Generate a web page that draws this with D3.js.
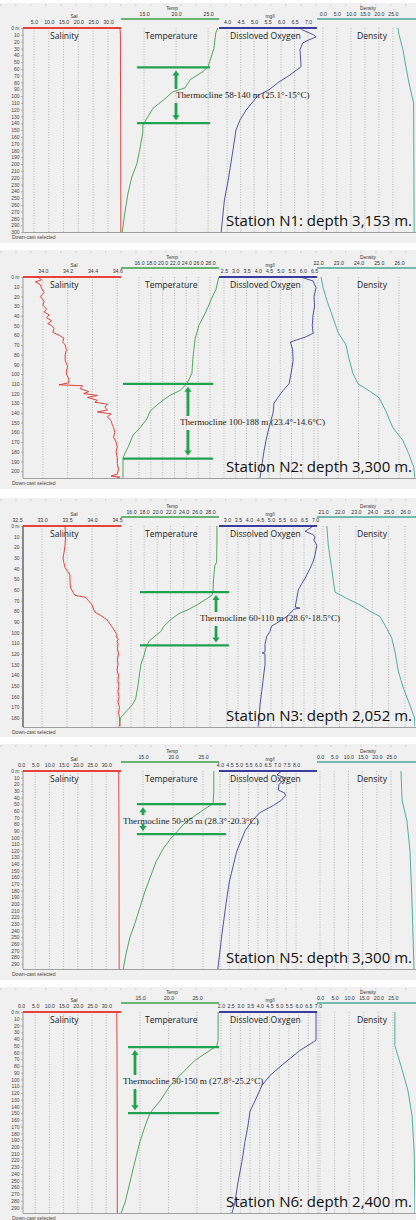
<!DOCTYPE html>
<html><head><meta charset="utf-8">
<script src="https://cdn.jsdelivr.net/npm/d3@7"></script>
<style>
body{margin:0;background:#fff;}
svg{display:block;}
</style></head><body>
<svg id="c" width="416" height="1220"></svg>
<script>
// ---------------- DATA ----------------
const stationLabels = ["Station N1: depth 3,153 m.","Station N2: depth 3,300 m.","Station N3: depth 2,052 m.","Station N5: depth 3,300 m.","Station N6: depth 2,400 m."];
const thermoLabels = ["Thermocline 58-140 m (25.1°-15°C)","Thermocline 100-188 m (23.4°-14.6°C)","Thermocline 60-110 m (28.6°-18.5°C)","Thermocline 50-95 m (28.3°-20.3°C)","Thermocline 50-150 m (27.8°-25.2°C)"];
const thermoDepths = [[58,140],[110,187],[62,112],[50,95],[52,150]];
const maxDepths = [300,207,188.5,298,298];
const columnTitles = ["Salinity","Temperature","Dissloved Oxygen","Density"];
const columnTitlesN3 = ["Salinity","Temperature","Dissolved Oxygen","Density"];
const axisTitles = ["Sal","Temp","mg/l","Density"];

const salTicks = [[5,10,15,20,25,30],[34.0,34.2,34.4,34.6],[32.5,33.0,33.5,34.0,34.5],[0,5,10,15,20,25,30],[0,5,10,15,20,25,30]];
const tempTicks = [[15,20,25],[16,18,20,22,24,26,28],[16,18,20,22,24,26,28],[15,20,25],[15,20,25]];
const doTicks = [[4,4.5,5,5.5,6,6.5,7],[2.5,3,3.5,4,4.5,5,5.5,6,6.5],[3,3.5,4,4.5,5,5.5,6,6.5,7],[4,4.5,5,5.5,6,6.5,7,7.5,8],[2,2.5,3,3.5,4,4.5,5,5.5,6,6.5,7]];
const densTicks = [[0,5,10,15,20,25],[22,23,24,25,26],[21,22,23,24,25,26],[0,5,10,15,20,25],[0,5,10,15,20,25]];

// profiles: [depth (m), value]
const n1Sal = [[0,33.9],[2,34.1],[10,34.2],[60,34.22],[140,34.3],[300,34.35]];
const n1Temp = [[0,26.5],[7,26.2],[30,25.9],[57,25.0],[64,24.2],[76,22.2],[88,21.4],[94,19.5],[106,18.0],[118,16.4],[132,15.5],[143,14.8],[154,14.8],[175,14.4],[199,13.9],[219,13.1],[243,12.5],[272,12.0],[300,11.6]];
const n1DO = [[0,6.7],[3,6.8],[10,7.2],[13,7.3],[18,7.0],[22,6.8],[32,6.7],[57,6.74],[69,6.33],[80,5.9],[91,5.55],[99,5.15],[121,4.7],[135,4.48],[150,4.33],[179,4.22],[224,4.04],[253,3.9],[300,3.78]];
const n1Dens = [[0,26.8],[10,27.2],[32,28.6],[60,29.8],[80,30.7],[110,32.4],[200,32.5],[300,32.6]];

const n2Sal = [[0,33.96],[3,33.99],[5,33.94],[8,33.98],[12,33.99],[16,34.01],[20,33.98],[25,34.01],[29,34.0],[33,34.03],[36,34.01],[39,34.05],[42,34.03],[45,34.07],[48,34.04],[50,34.07],[53,34.09],[57,34.08],[60,34.13],[63,34.17],[67,34.16],[70,34.18],[75,34.19],[80,34.18],[86,34.18],[92,34.2],[97,34.19],[100,34.19],[105,34.21],[109,34.21],[111,34.13],[112,34.32],[115,34.3],[118,34.37],[120,34.33],[122,34.44],[124,34.36],[127,34.44],[129,34.42],[131,34.52],[134,34.5],[137,34.52],[139,34.44],[141,34.55],[144,34.52],[148,34.55],[152,34.56],[155,34.57],[160,34.58],[165,34.57],[170,34.59],[175,34.6],[180,34.59],[186,34.6],[192,34.6],[198,34.61],[203,34.6],[205,34.55],[206,34.62],[207,34.6]];
const n2Temp = [[0,29.5],[13,29.0],[19,28.5],[36,27.3],[50,26.1],[57,25.8],[63,25.5],[84,25.1],[99,24.95],[110,24.1],[117,22.9],[122,21.2],[127,20.05],[132,19.0],[138,17.9],[146,17.35],[155,16.2],[163,15.0],[176,14.1],[182,13.6],[186,13.3],[207,13.3]];
const n2DO = [[0,5.9],[4,6.45],[11,6.59],[20,6.5],[30,6.52],[40,6.45],[50,6.42],[58,6.46],[62,6.1],[65,5.7],[67,5.45],[75,5.55],[86,5.57],[99,5.48],[110,5.39],[117,5.12],[124,4.9],[130,4.72],[140,4.68],[155,4.5],[168,4.37],[179,4.28],[200,4.14],[207,4.1]];
const n2Dens = [[0,22.15],[11,22.25],[25,22.45],[36,22.64],[57,22.99],[70,23.38],[84,23.53],[99,23.72],[110,23.97],[117,24.51],[124,25.0],[138,25.35],[155,25.69],[168,26.18],[182,26.48],[196,26.73],[207,26.78]];

const n3Sal = [[0,33.46],[10,33.47],[18,33.46],[25,33.44],[30,33.42],[35,33.44],[39,33.46],[43,33.52],[46,33.56],[52,33.56],[58,33.57],[62,33.62],[65,33.66],[67,33.88],[70,33.93],[74,34.0],[78,34.03],[81,34.06],[84,34.18],[86,34.24],[88,34.3],[92,34.36],[96,34.42],[99,34.46],[102,34.5],[104,34.48],[106,34.53],[108,34.5],[110,34.52],[115,34.51],[120,34.53],[125,34.51],[130,34.52],[135,34.5],[140,34.53],[145,34.52],[150,34.54],[155,34.52],[160,34.54],[165,34.52],[170,34.55],[175,34.53],[180,34.55],[185,34.56],[188,34.56]];
const n3Temp = [[0,29.05],[18,29.05],[34,29.0],[37,28.75],[49,28.55],[62,28.45],[65,28.3],[74,26.05],[79,24.5],[82,23.3],[88,22.0],[94,21.0],[99,20.5],[104,19.5],[108,18.75],[115,18.24],[121,18.0],[130,17.5],[143,17.2],[152,17.0],[162,16.7],[168,16.2],[171,15.7],[176,14.95],[180,14.4],[188,14.2]];
const n3DO = [[0,6.92],[3,6.7],[5,6.55],[8,6.9],[10,7.0],[13,6.95],[18,7.08],[27,7.0],[33,6.92],[40,6.77],[46,6.62],[49,6.55],[54,6.4],[60,6.24],[68,6.17],[76,6.1],[77,6.32],[78,6.05],[79,6.01],[82,5.86],[85,5.71],[88,5.49],[91,5.26],[94,5.03],[99,4.95],[104,4.8],[111,4.73],[118,4.73],[119,4.6],[120,4.73],[130,4.73],[143,4.65],[155,4.58],[168,4.5],[177,4.47],[188,4.42]];
const n3Dens = [[0,21.23],[18,21.32],[30,21.43],[40,21.53],[52,21.63],[62,21.73],[68,22.45],[74,23.26],[80,23.87],[85,24.48],[96,24.88],[105,25.19],[118,25.39],[136,25.59],[152,25.9],[168,26.3],[180,26.58],[188,26.6]];

const n5Sal = [[0,34.3],[5,34.4],[50,34.45],[100,34.5],[298,34.55]];
const n5Temp = [[0,26.8],[29,26.8],[49,26.7],[57,25.3],[67,23.7],[78,22.0],[90,20.8],[103,19.5],[118,18.3],[136,17.2],[160,16.2],[182,15.3],[205,14.5],[228,13.7],[251,12.8],[274,12.2],[298,11.7]];
const n5DO = [[0,7.23],[6,7.0],[10,7.4],[14,7.34],[20,7.1],[29,7.07],[33,7.4],[37,7.45],[44,7.23],[52,6.8],[63,6.08],[75,5.7],[90,5.32],[121,4.88],[167,4.49],[198,4.33],[244,4.11],[298,3.89]];
const n5Dens = [[0,28.5],[44,28.9],[75,30.6],[121,31.7],[198,32.4],[298,33.1]];

const n6Sal = [[0,33.7],[50,33.8],[150,33.85],[298,33.9]];
const n6Temp = [[0,28.7],[42,28.7],[50,28.5],[72,24.6],[94,22.0],[109,20.3],[132,18.5],[150,16.75],[169,15.9],[192,15.0],[222,14.1],[252,13.25],[282,12.4],[298,11.7]];
const n6DO = [[0,6.9],[42,6.9],[57,6.07],[75,5.3],[94,4.53],[109,4.11],[132,3.75],[147,3.5],[169,3.39],[192,3.24],[222,3.08],[252,2.88],[282,2.72],[298,2.57]];
const n6Dens = [[0,25.7],[50,25.7],[80,27.8],[117,30.2],[154,31.6],[207,32.3],[298,32.6]];

// ---------------- SCALE / LAYOUT CONFIG ----------------
const salDomain = [[1.3,34.4],[33.84,34.63],[32.62,34.58],[0.7,35.2],[0.7,35.2]];
const tempDomain = [[11.4,26.7],[12.96,29.52],[14.48,29.37],[11.33,27.67],[11.67,28.86]];
const doDomain = [[3.7,7.33],[2.28,6.63],[2.64,7.09],[3.95,9.1],[1.9,6.95]];
const densDomain = [[-2.1,32.9],[21.95,26.79],[20.63,26.61],[-1.06,33.45],[-1.04,32.6]];

const colX = [23,121,219,317,415];
const layout = [
  {bgTop:3,top:28,bottom:232,bgBottom:243},
  {bgTop:250,top:277,bottom:478,bgBottom:489},
  {bgTop:498,top:526,bottom:727,bgBottom:737},
  {bgTop:744,top:771,bottom:969,bgBottom:980},
  {bgTop:987,top:1012,bottom:1213,bgBottom:1220}
];
const thermoLayout = [
  {x0:137,x1:210,ax:176,tx:176,ty:98},
  {x0:123,x1:213,ax:188,tx:180,ty:425},
  {x0:140,x1:229,ax:216,tx:200,ty:621},
  {x0:137,x1:226,ax:143,tx:123,ty:824},
  {x0:128,x1:219,ax:135,tx:123,ty:1084}
];
const profiles = [
  [n1Sal,n1Temp,n1DO,n1Dens],
  [n2Sal,n2Temp,n2DO,n2Dens],
  [n3Sal,n3Temp,n3DO,n3Dens],
  [n5Sal,n5Temp,n5DO,n5Dens],
  [n6Sal,n6Temp,n6DO,n6Dens]
];
const ticksAll = [salTicks,tempTicks,doTicks,densTicks];
const domainsAll = [salDomain,tempDomain,doDomain,densDomain];
const lineColors = ["#e0302b","#2f8f3a","#2c2c8a","#2f9a86"];
const headColors = ["#e8423c","#3ba04b","#3c3c9e","#4aa99a"];
const thermoColor = "#21a24f";

const svg = d3.select("#c");
const fmt = d3.format(".1f");

layout.forEach((L,p)=>{
  const g = svg.append("g");
  g.append("rect").attr("x",0).attr("y",L.bgTop).attr("width",416).attr("height",L.bgBottom-L.bgTop).attr("fill","#f0f0f0");
  g.append("line").attr("x1",0).attr("x2",416).attr("y1",L.bgTop+2).attr("y2",L.bgTop+2)
    .attr("stroke","#c4c4c4").attr("stroke-width",1).attr("stroke-dasharray","1.5,13.5");

  const y = d3.scaleLinear().domain([0,maxDepths[p]]).range([L.top,L.bottom]);
  const clipId = "clip"+p;
  svg.append("clipPath").attr("id",clipId).append("rect")
    .attr("x",colX[0]).attr("y",L.top).attr("width",colX[4]-colX[0]).attr("height",L.bottom-L.top);

  const xs = [0,1,2,3].map(i=>d3.scaleLinear().domain(domainsAll[i][p]).range([colX[i],colX[i+1]]));

  // gridlines
  xs.forEach((x,i)=>{
    ticksAll[i][p].forEach(t=>{
      const xv = x(t);
      if (xv < colX[0]+1 || xv > colX[4]-1) return;
      g.append("line").attr("x1",xv).attr("x2",xv).attr("y1",L.top).attr("y2",L.bottom)
        .attr("stroke","#8f8f8f").attr("stroke-width",0.6).attr("stroke-dasharray","1,1.6");
    });
  });

  // left & bottom frame
  g.append("line").attr("x1",colX[0]).attr("x2",colX[0]).attr("y1",L.top).attr("y2",L.bottom)
    .attr("stroke", p===2 ? "#222" : "#9a9a9a").attr("stroke-width",1);
  g.append("line").attr("x1",colX[0]).attr("x2",416).attr("y1",L.bottom+0.5).attr("y2",L.bottom+0.5)
    .attr("stroke","#a0a0a0").attr("stroke-width",1);

  // header axes
  xs.forEach((x,i)=>{
    const high = (i===1 || i===3);
    const labY = high ? L.top-12 : L.top-4;
    const titleY = high ? L.top-18 : L.top-10;
    const ax = d3.axisTop(x).tickValues(ticksAll[i][p]).tickSize(0).tickPadding(0).tickFormat(fmt);
    const ag = g.append("g").attr("transform",`translate(0,${labY})`).call(ax);
    ag.select(".domain").remove();
    ag.selectAll("text").attr("font-size",5.2).attr("font-family","Liberation Sans, Arial, sans-serif").attr("fill","#333");
    g.append("text").attr("x",(colX[i]+colX[i+1])/2+2).attr("y",titleY)
      .attr("text-anchor","middle").attr("font-size",4.8).attr("font-family","Liberation Sans, Arial, sans-serif")
      .attr("fill","#333").text(axisTitles[i]);
    const ly = high ? L.top-9 : L.top;
    g.append("line").attr("x1",colX[i]).attr("x2",i===3?416:colX[i+1]).attr("y1",ly).attr("y2",ly)
      .attr("stroke",headColors[i]).attr("stroke-width", high ? 1.3 : 2.2);
  });

  // depth axis
  const dticks = d3.range(0, maxDepths[p]+0.01, 10);
  const yAx = d3.axisLeft(y).tickValues(dticks).tickSize(2).tickPadding(1.5).tickFormat(d=> d===0 ? "0 m" : d);
  const yg = g.append("g").attr("transform",`translate(${colX[0]},0)`).call(yAx);
  yg.select(".domain").remove();
  yg.selectAll("line").attr("stroke","#888").attr("stroke-width",0.6);
  yg.selectAll("text").attr("font-size",5).attr("font-family","Liberation Sans, Arial, sans-serif").attr("fill","#444");

  // column titles
  const titles = p===2 ? columnTitlesN3 : columnTitles;
  const titleX = [50,145,230,357];
  titles.forEach((t,i)=>{
    g.append("text").attr("x",titleX[i]).attr("y",L.top+11).attr("font-size",8.6)
      .attr("font-family","Open Sans, Noto Sans, sans-serif").attr("fill","#222").text(t);
  });

  // profiles
  const pg = g.append("g").attr("clip-path",`url(#${clipId})`);
  profiles[p].forEach((data,i)=>{
    const line = d3.line().x(d=>xs[i](d[1])).y(d=>y(d[0]));
    pg.append("path").datum(data).attr("d",line).attr("fill","none")
      .attr("stroke",lineColors[i]).attr("stroke-width", i===0 ? 0.9 : 0.8);
  });

  // thermocline annotation
  const T = thermoLayout[p];
  const [d0,d1] = thermoDepths[p];
  const yTop = y(d0), yBot = y(d1);
  [yTop,yBot].forEach(yy=>{
    g.append("line").attr("x1",T.x0).attr("x2",T.x1).attr("y1",yy).attr("y2",yy)
      .attr("stroke",thermoColor).attr("stroke-width",2.2);
  });
  const upTip = yTop+3, upEnd = T.ty-9;
  const dnTip = yBot-3, dnStart = T.ty+5;
  const arrow = (tip, end, dir)=>{
    const hl = 5*dir;
    return `M${T.ax},${tip} L${T.ax-3.6},${tip+hl} L${T.ax-1.4},${tip+hl} L${T.ax-1.4},${end} L${T.ax+1.4},${end} L${T.ax+1.4},${tip+hl} L${T.ax+3.6},${tip+hl} Z`;
  };
  g.append("path").attr("d",arrow(upTip,Math.max(upEnd,upTip+7),1)).attr("fill",thermoColor);
  g.append("path").attr("d",arrow(dnTip,Math.min(dnStart,dnTip-7),-1)).attr("fill",thermoColor);
  g.append("text").attr("x",T.tx).attr("y",T.ty).attr("font-size",9.1)
    .attr("font-family","Liberation Serif, DejaVu Serif, serif").attr("fill","#222").text(thermoLabels[p]);

  // station label
  g.append("text").attr("x",412).attr("y",L.bottom-6).attr("text-anchor","end").attr("font-size",15)
    .attr("font-family","Open Sans, Noto Sans, sans-serif").attr("fill","#111").text(stationLabels[p]);

  // footer
  g.append("text").attr("x",12).attr("y",L.bottom+7).attr("font-size",5)
    .attr("font-family","Liberation Sans, Arial, sans-serif").attr("fill","#444").text("Down-cast selected");
});
</script>
</body></html>
